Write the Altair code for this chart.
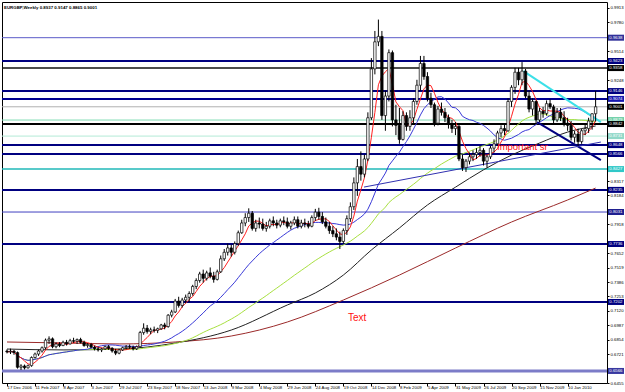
import json
import altair as alt
import pandas as pd

# ---------------- data ----------------
opens = [.6750,.6742,.6748,.6735,.6600,.6612,.6595,.6615,.6690,.6722,.6750,.6780,.6850,.6862,.6790,.6815,.6800,.6830,.6815,.6845,
         .6840,.6855,.6830,.6800,.6810,.6785,.6770,.6760,.6770,.6790,.6775,.6750,.6730,.6760,.6780,.6790,.6785,.6770,.6790,.6920,
         .6960,.6930,.6945,.6940,.6955,.6990,.6975,.7080,.7110,.7210,.7170,.7220,.7245,.7280,.7345,.7400,.7460,.7420,.7470,.7440,
         .7410,.7480,.7600,.7660,.7700,.7660,.7740,.7840,.7930,.7980,.8020,.7880,.7930,.7920,.7880,.7900,.7950,.7930,.7910,.7950,
         .7940,.7900,.7930,.7960,.7900,.7930,.7920,.7900,.7980,.8030,.7990,.7940,.7900,.7860,.7830,.7800,.7760,.7860,.7970,.8080,
         .8300,.8450,.8380,.8520,.8900,.9350,.9600,.9650,.8920,.9100,.9500,.8880,.8830,.8700,.8920,.8820,.8900,.9050,.9200,.9400,
         .9280,.9080,.9020,.8850,.8980,.8950,.8900,.8840,.8800,.8820,.8520,.8440,.8500,.8540,.8560,.8580,.8600,.8500,.8540,.8620,
         .8660,.8760,.8800,.8780,.9050,.9180,.9320,.9250,.9330,.9100,.8980,.9050,.8880,.8960,.8940,.9030,.9000,.8880,.8950,.8900,
         .8850,.8830,.8720,.8750,.8680,.8780,.8800,.8870,.8937]
highs = [.6765,.6772,.6760,.6745,.6628,.6625,.6625,.6700,.6735,.6762,.6792,.6865,.6885,.6875,.6830,.6832,.6845,.6852,.6862,.6872,
         .6865,.6872,.6845,.6822,.6825,.6800,.6790,.6780,.6800,.6805,.6785,.6770,.6770,.6790,.6805,.6810,.6800,.6800,.6935,.7005,
         .6990,.6965,.6975,.6965,.7000,.7010,.7090,.7130,.7230,.7250,.7240,.7270,.7300,.7360,.7420,.7480,.7500,.7490,.7520,.7480,
         .7500,.7630,.7690,.7740,.7730,.7760,.7860,.7960,.8020,.8065,.8040,.7960,.7980,.7970,.7940,.7970,.7990,.7960,.7970,.7990,
         .7980,.7950,.7990,.7990,.7960,.7970,.7950,.8000,.8060,.8070,.8030,.7980,.7940,.7900,.7880,.7850,.7880,.8000,.8120,.8350,
         .8520,.8590,.8560,.8950,.9450,.9700,.9805,.9700,.9150,.9530,.9520,.9020,.8990,.8960,.8950,.8970,.9080,.9250,.9470,.9470,
         .9320,.9130,.9040,.9010,.9040,.8990,.8930,.8880,.8860,.8850,.8560,.8520,.8580,.8600,.8620,.8640,.8620,.8560,.8640,.8700,
         .8780,.8830,.8850,.9080,.9200,.9360,.9360,.9413,.9350,.9150,.9080,.9060,.8990,.9000,.9060,.9070,.9020,.8990,.8990,.8960,
         .8900,.8870,.8780,.8800,.8800,.8840,.8900,.8940,.9147]
lows = [.6728,.6722,.6715,.6588,.6575,.6580,.6588,.6605,.6680,.6705,.6735,.6765,.6815,.6775,.6775,.6785,.6795,.6800,.6810,.6825,
        .6815,.6820,.6790,.6780,.6775,.6755,.6745,.6740,.6760,.6760,.6735,.6712,.6720,.6750,.6765,.6770,.6755,.6760,.6780,.6900,
        .6910,.6905,.6920,.6915,.6945,.6950,.6965,.7060,.7100,.7150,.7150,.7190,.7200,.7260,.7320,.7380,.7380,.7400,.7420,.7380,
        .7400,.7470,.7580,.7630,.7620,.7640,.7720,.7830,.7900,.7940,.7860,.7850,.7880,.7860,.7850,.7880,.7900,.7880,.7890,.7910,
        .7880,.7870,.7910,.7880,.7880,.7890,.7880,.7890,.7950,.7960,.7920,.7880,.7830,.7800,.7770,.7690,.7740,.7820,.7940,.8050,
        .8180,.8320,.8350,.8500,.8880,.9300,.9560,.8880,.8780,.9050,.8820,.8740,.8660,.8690,.8780,.8780,.8850,.9020,.9150,.9250,
        .9050,.8990,.8820,.8830,.8920,.8860,.8800,.8760,.8740,.8500,.8410,.8400,.8470,.8500,.8520,.8540,.8460,.8440,.8520,.8580,
        .8640,.8720,.8740,.8770,.9000,.9120,.9200,.9200,.9080,.8950,.8920,.8850,.8860,.8900,.8920,.8980,.8850,.8860,.8870,.8820,
        .8780,.8690,.8670,.8640,.8660,.8740,.8760,.8790,.8865]
closes = [.6742,.6748,.6735,.6600,.6612,.6595,.6615,.6690,.6722,.6750,.6780,.6850,.6862,.6790,.6815,.6800,.6830,.6815,.6845,.6840,
          .6855,.6830,.6800,.6810,.6785,.6770,.6760,.6770,.6790,.6775,.6750,.6730,.6760,.6780,.6790,.6785,.6770,.6790,.6920,.6960,
          .6930,.6945,.6940,.6955,.6990,.6975,.7080,.7110,.7210,.7170,.7220,.7245,.7280,.7345,.7400,.7460,.7420,.7470,.7440,.7410,
          .7480,.7600,.7660,.7700,.7660,.7740,.7840,.7930,.7980,.8020,.7880,.7930,.7920,.7880,.7900,.7950,.7930,.7910,.7950,.7940,
          .7900,.7930,.7960,.7900,.7930,.7920,.7900,.7980,.8030,.7990,.7940,.7900,.7860,.7830,.7800,.7760,.7860,.7970,.8080,.8300,
          .8450,.8380,.8520,.8900,.9350,.9600,.9650,.8920,.9100,.9500,.8880,.8830,.8700,.8920,.8820,.8900,.9050,.9200,.9400,.9280,
          .9080,.9020,.8850,.8980,.8950,.8900,.8840,.8800,.8820,.8520,.8440,.8500,.8540,.8560,.8580,.8600,.8500,.8540,.8620,.8660,
          .8760,.8800,.8780,.9050,.9180,.9320,.9250,.9330,.9100,.8980,.9050,.8880,.8960,.8940,.9030,.9000,.8880,.8950,.8900,.8850,
          .8830,.8720,.8750,.8680,.8780,.8800,.8870,.8937,.9001]

# slow averages (bar index, price)
black_ma_bars = [0, 16, 32, 48, 64, 80, 88, 96, 104, 112, 120, 128, 136, 144, 152, 160, 168]
black_ma_vals = [.6768, .6760, .6768, .6823, .6943, .7174, .7285, .7450, .7681, .7884, .8096, .8260, .8420, .8556, .8667, .8768, .8824]
brown_ma_bars = [0, 16, 32, 48, 64, 80, 96, 112, 128, 144, 160, 168]
brown_ma_vals = [.6833, .6824, .6815, .6833, .6888, .7017, .7220, .7450, .7699, .7939, .8142, .8252]

# horizontal levels
level_prices = [.9638, .9423, .9358, .9146, .9074, .9001, .8879, .8842, .8731, .8648, .8566, .8427, .8235, .8031, .7736, .7202, .6566]
# trend lines: start bar, end bar, start price, end price
trend_x1 = [147.4, 151.3, 101.9]
trend_x2 = [169.5, 169.5, 169.5]
trend_y1 = [.9330, .8860, .8261]
trend_y2 = [.8860, .8510, .8676]

date_tick_bars = list(range(0, 161, 8))
date_labels = ['17 Dec 2006', '11 Feb 2007', '8 Apr 2007', '3 Jun 2007', '29 Jul 2007', '23 Sep 2007',
               '18 Nov 2007', '13 Jan 2008', '9 Mar 2008', '4 May 2008', '29 Jun 2008', '24 Aug 2008',
               '19 Oct 2008', '14 Dec 2008', '8 Feb 2009', '5 Apr 2009', '31 May 2009', '26 Jul 2009',
               '20 Sep 2009', '15 Nov 2009', '10 Jan 2010']
# plain price labels left visible (others are hidden behind the level boxes)
price_ticks = [.6455, .6721, .6854, .6987, .7120, .7253, .7386, .7519, .7652, .7918,
               .8184, .8317, .9248, .9514, .9780, .9913]
title_text = 'EURGBP,Weekly  0.8937 0.9147 0.8865 0.9001'

# ---------------- styles ----------------
level_colors = ['#5a5ac8', '#000080', '#111111', '#000080', '#000090', '#b0b0b0', '#80dcb4', '#000000',
                '#b4ead6', '#000080', '#000080', '#20b8b8', '#000080', '#4040c0', '#000080', '#000080', '#7c7cc8']
level_widths = [1, 2, 1.5, 2, 2, 1, 1, 2, 1, 2, 2, 1.5, 2, 1, 2, 2, 3]
box_colors = ['#30309a', '#000080', '#000000', '#000080', '#1818b0', '#000000', '#70d0a8', '#000000',
              '#90d8c8', '#000080', '#000080', '#30c8c8', '#000080', '#202090', '#000080', '#000080', '#3838a0']
trend_colors = ['#3ce0e8', '#000080', '#3030b0']
trend_widths = [2, 2, 1]

FONT = 'Liberation Sans'

ohlc = pd.DataFrame({'i': list(range(len(closes))), 'o': opens, 'h': highs, 'l': lows, 'c': closes})
levels = pd.DataFrame({'p': level_prices, 'col': level_colors, 'w': level_widths, 'box': box_colors,
                       'lab': [f'{v:.4f}' for v in level_prices]})
trends = pd.DataFrame({'x1': trend_x1, 'x2': trend_x2, 'y1': trend_y1, 'y2': trend_y2,
                       'col': trend_colors, 'w': trend_widths})
black_df = pd.DataFrame({'i': black_ma_bars, 'v': black_ma_vals})
brown_df = pd.DataFrame({'i': brown_ma_bars, 'v': brown_ma_vals})

XS = alt.Scale(domain=[0, 169.82], nice=False, zero=False)
YS = alt.Scale(domain=[0.6455, 0.9967], nice=False, zero=False)

x_axis = alt.Axis(values=date_tick_bars,
                  labelExpr=json.dumps(date_labels) + '[round(datum.value / 8)]',
                  labelAlign='left', labelBaseline='top', labelFont=FONT, labelFontSize=4.3,
                  labelColor='black', labelPadding=-1, labelFlush=False, labelOverlap=False,
                  labelBound=False, tickSize=3, tickColor='black', domain=False, grid=False, title=None)
y_axis = alt.Axis(orient='right', values=price_ticks, format='.4f', labelFont=FONT, labelFontSize=4.3,
                  labelColor='black', labelPadding=1, labelFlush=False, labelOverlap=False,
                  labelBound=False, tickSize=2, tickColor='black', domain=False, grid=False, title=None)

X = lambda f: alt.X(f, type='quantitative', scale=XS, axis=None)
Y = lambda f: alt.Y(f, type='quantitative', scale=YS, axis=None)

# axis carrier layer (invisible marks, carries both axes)
axes_layer = alt.Chart(ohlc).mark_point(opacity=0).encode(
    x=alt.X('i:Q', scale=XS, axis=x_axis), y=alt.Y('c:Q', scale=YS, axis=y_axis))

hlines = alt.Chart(levels).mark_rule(clip=True).encode(
    x=alt.value(0), x2=alt.value(605), y=Y('p'),
    color=alt.Color('col:N', scale=None),
    strokeWidth=alt.StrokeWidth('w:Q', scale=None))

brown = alt.Chart(brown_df).mark_line(color='#9b2a2a', strokeWidth=1, clip=True, interpolate='monotone').encode(x=X('i'), y=Y('v'))
black = alt.Chart(black_df).mark_line(color='#222222', strokeWidth=1, clip=True, interpolate='monotone').encode(x=X('i'), y=Y('v'))
green = alt.Chart(ohlc).transform_window(v='mean(c)', frame=[-49, 0], sort=[alt.SortField('i')]).mark_line(
    color='#a8e040', strokeWidth=1, clip=True).encode(x=X('i'), y=Y('v'))
blue = alt.Chart(ohlc).transform_window(v='mean(c)', frame=[-20, 0], sort=[alt.SortField('i')]).mark_line(
    color='#3a3ad8', strokeWidth=1, clip=True).encode(x=X('i'), y=Y('v'))
red = alt.Chart(ohlc).transform_window(v='mean(c)', frame=[-4, 0], sort=[alt.SortField('i')]).mark_line(
    color='#ff2020', strokeWidth=1, clip=True).encode(x=X('i'), y=Y('v'))

trend_layer = alt.Chart(trends).mark_rule(clip=True).encode(
    x=X('x1'), x2='x2:Q', y=Y('y1'), y2='y2:Q',
    color=alt.Color('col:N', scale=None), strokeWidth=alt.StrokeWidth('w:Q', scale=None))

wicks = alt.Chart(ohlc).mark_rule(color='black', strokeWidth=1, clip=True).encode(x=X('i'), y=Y('l'), y2='h:Q')
bodies = alt.Chart(ohlc).mark_bar(size=2.4, stroke='black', strokeWidth=0.7, clip=True).encode(
    x=X('i'), y=Y('o'), y2='c:Q',
    fill=alt.condition('datum.c >= datum.o', alt.value('white'), alt.value('black')))

boxes = alt.Chart(levels).mark_rect(yOffset=-3, y2Offset=3).encode(
    x=alt.value(606), x2=alt.value(622), y=Y('p'), y2='p:Q', fill=alt.Color('box:N', scale=None))
box_text = alt.Chart(levels).mark_text(align='left', baseline='middle', font=FONT, fontSize=4.3, color='white').encode(
    x=alt.value(607.3), y=Y('p'), text='lab:N')

title = alt.Chart(pd.DataFrame({'t': [title_text]})).mark_text(
    align='left', baseline='middle', font=FONT, fontSize=4.4, fontWeight='bold', color='black').encode(
    x=alt.value(2), y=alt.value(6), text='t:N')
imp = alt.Chart(pd.DataFrame({'t': ['Important sr']})).mark_text(
    align='left', baseline='middle', font=FONT, fontSize=9.5, color='#ff1010').encode(
    x=alt.value(495), y=alt.value(145), text='t:N')
txt = alt.Chart(pd.DataFrame({'t': ['Text']})).mark_text(
    align='left', baseline='middle', font=FONT, fontSize=10, color='#ff1010').encode(
    x=alt.value(346), y=alt.value(316), text='t:N')

chart = alt.layer(axes_layer, hlines, brown, black, green, blue, red, trend_layer, wicks, bodies,
                  boxes, box_text, title, imp, txt).resolve_axis(
    x='independent', y='independent'
).properties(
    width=605, height=381,
    autosize=alt.AutoSizeParams(type='none'),
    padding={'left': 2, 'top': 2, 'right': 18, 'bottom': 9},
    background='white'
).configure_view(stroke='black', strokeWidth=1)

chart.save('out.html', embed_options={'renderer': 'svg', 'actions': False})
